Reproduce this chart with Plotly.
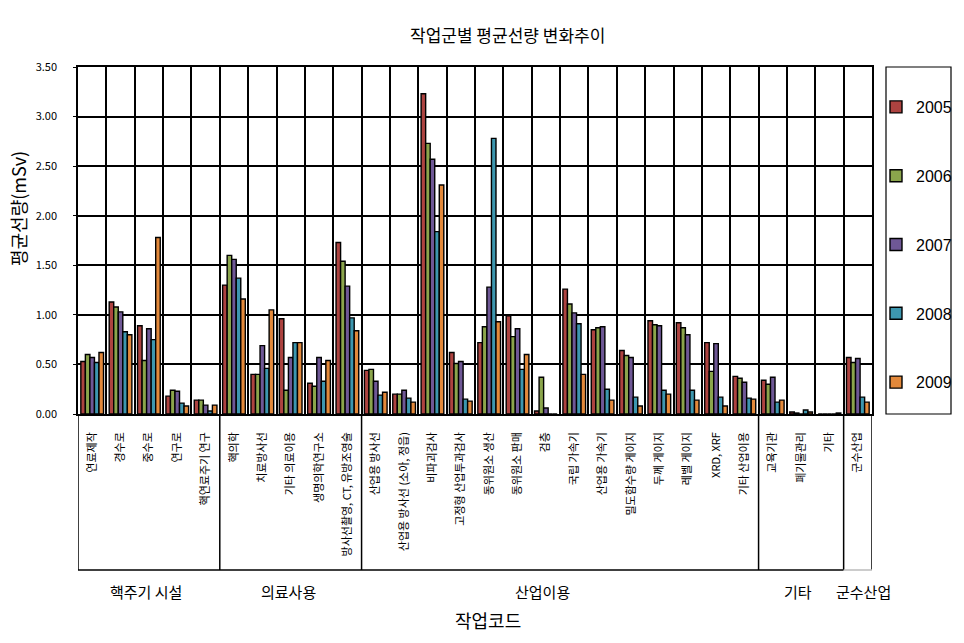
import plotly.graph_objects as go

categories = ["연료제작", "경수로", "중수로", "연구로", "핵연료주기 연구",
              "핵의학", "치료방사선", "기타 의료이용", "생명의학연구소", "방사선촬영, CT, 유방조영술",
              "산업용 방사선", "산업용 방사선 (소아, 정읍)", "비파괴검사", "고정형 산업투과검사",
              "동위원소 생산", "동위원소 판매", "검층", "국립 가속기", "산업용 가속기",
              "밀도함수량 게이지", "두께 게이지", "레벨 게이지", "XRD, XRF", "기타 산업이용",
              "교육기관", "폐기물관리", "기타", "군수산업"]

y2005 = [0.53, 1.13, 0.89, 0.18, 0.14, 1.30, 0.40, 0.96, 0.31, 1.73,
         0.44, 0.20, 3.23, 0.62, 0.72, 0.99, 0.03, 1.26, 0.85, 0.64,
         0.94, 0.92, 0.72, 0.38, 0.34, 0.02, 0.00, 0.57]
y2006 = [0.60, 1.08, 0.54, 0.24, 0.14, 1.60, 0.40, 0.24, 0.28, 1.54,
         0.45, 0.20, 2.73, 0.51, 0.88, 0.78, 0.37, 1.11, 0.87, 0.59,
         0.90, 0.87, 0.43, 0.36, 0.30, 0.01, 0.00, 0.52]
y2007 = [0.57, 1.03, 0.86, 0.23, 0.09, 1.56, 0.69, 0.57, 0.57, 1.29,
         0.33, 0.24, 2.57, 0.53, 1.28, 0.86, 0.06, 1.02, 0.88, 0.57,
         0.89, 0.80, 0.71, 0.32, 0.37, 0.00, 0.00, 0.56]
y2008 = [0.52, 0.83, 0.75, 0.11, 0.03, 1.37, 0.46, 0.72, 0.33, 0.97,
         0.19, 0.16, 1.84, 0.15, 2.78, 0.45, 0.00, 0.91, 0.25, 0.17,
         0.24, 0.24, 0.17, 0.16, 0.12, 0.04, 0.00, 0.17]
y2009 = [0.62, 0.80, 1.78, 0.08, 0.09, 1.16, 1.05, 0.72, 0.54, 0.84,
         0.22, 0.12, 2.31, 0.13, 0.93, 0.60, 0.00, 0.40, 0.14, 0.08,
         0.20, 0.14, 0.08, 0.15, 0.14, 0.02, 0.01, 0.12]

years = ["2005", "2006", "2007", "2008", "2009"]
series = [y2005, y2006, y2007, y2008, y2009]
colors = ["#AD4340", "#8BA54C", "#6F5896", "#3D97AF", "#E3893B"]

groups = ["핵주기 시설", "의료사용", "산업이용", "기타", "군수산업"]
group_px = [146, 288, 542, 798, 863]
group_bounds = [-0.5, 4.5, 9.5, 23.5, 26.5, 27.5]

FONT = "Noto Sans CJK KR"
L, R, T, B = 78, 872, 67, 414
W, H = 964, 643


def px_to_paper_x(px):
    return (px - L) / (R - L)


def px_to_paper_y(py):
    return (B - py) / (B - T)


fig = go.Figure()
for i, (yr, vals, c) in enumerate(zip(years, series, colors)):
    fig.add_trace(go.Bar(
        x=categories, y=vals, name=yr, legendgroup=yr,
        marker=dict(color=c, line=dict(color="black", width=1.4)),
    ))

fig.update_layout(
    width=W, height=H,
    margin=dict(l=L, r=W - R, t=T, b=H - B, autoexpand=False),
    paper_bgcolor="white", plot_bgcolor="white",
    barmode="group", bargap=0.2, bargroupgap=0,
    font=dict(family=FONT, color="black"),
    showlegend=True,
    legend=dict(
        x=px_to_paper_x(876), y=px_to_paper_y(90), xanchor="left", yanchor="top",
        borderwidth=0, bgcolor="rgba(0,0,0,0)",
        font=dict(family="Liberation Sans", size=16, color="black"),
        tracegroupgap=45, traceorder="grouped", itemwidth=30,
    ),
)

fig.update_xaxes(
    type="category", tickson="boundaries", tickangle=-90,
    showgrid=True, gridcolor="black", gridwidth=1.5,
    showline=True, linecolor="black", linewidth=1.5, mirror=True,
    ticks="", ticklabelstandoff=12,
    tickfont=dict(family=FONT, size=11, color="black"),
    range=[-0.5, 27.5],
)
fig.update_yaxes(
    range=[0, 3.5], dtick=0.5, tickformat=".2f",
    showgrid=True, gridcolor="black", gridwidth=1.5,
    showline=True, linecolor="black", linewidth=1.5, mirror=True,
    ticks="outside", ticklen=3, tickcolor="black",
    ticklabelstandoff=14,
    tickfont=dict(family=FONT, size=11, color="black"),
    zeroline=False,
)

# legend frame
fig.add_shape(type="rect", xref="paper", yref="paper",
              x0=px_to_paper_x(886), x1=px_to_paper_x(951),
              y0=px_to_paper_y(414), y1=px_to_paper_y(67),
              line=dict(color="black", width=1.2), fillcolor="rgba(0,0,0,0)", layer="below")

ybot = -(570 - B) / (B - T)
for gb in group_bounds:
    fig.add_shape(type="line", xref="x", yref="paper", x0=gb, x1=gb, y0=0, y1=ybot,
                  line=dict(color="black", width=1.5))
fig.add_shape(type="line", xref="x", yref="paper", x0=-0.5, x1=26.5, y0=ybot, y1=ybot,
              line=dict(color="black", width=1.5))
fig.add_shape(type="line", xref="x", yref="paper", x0=26.5, x1=27.5, y0=ybot, y1=ybot,
              line=dict(color="#BBBBBB", width=1.5))

for g, gx in zip(groups, group_px):
    fig.add_annotation(text=g, xref="paper", yref="paper",
                       x=px_to_paper_x(gx), y=px_to_paper_y(591),
                       showarrow=False, xanchor="center", yanchor="middle",
                       font=dict(family=FONT, size=15, color="black"))

fig.add_annotation(text="작업군별 평균선량 변화추이", xref="paper", yref="paper",
                   x=px_to_paper_x(507), y=px_to_paper_y(35), showarrow=False,
                   xanchor="center", yanchor="middle",
                   font=dict(family=FONT, size=17, color="black"))
fig.add_annotation(text="작업코드", xref="paper", yref="paper",
                   x=px_to_paper_x(488), y=px_to_paper_y(620), showarrow=False,
                   xanchor="center", yanchor="middle",
                   font=dict(family=FONT, size=18, color="black"))
fig.add_annotation(text="평균선량(mSv)", xref="paper", yref="paper",
                   x=px_to_paper_x(18), y=px_to_paper_y(208), showarrow=False,
                   textangle=-90, xanchor="center", yanchor="middle",
                   font=dict(family=FONT, size=18, color="black"))

fig.write_html("out.html")
